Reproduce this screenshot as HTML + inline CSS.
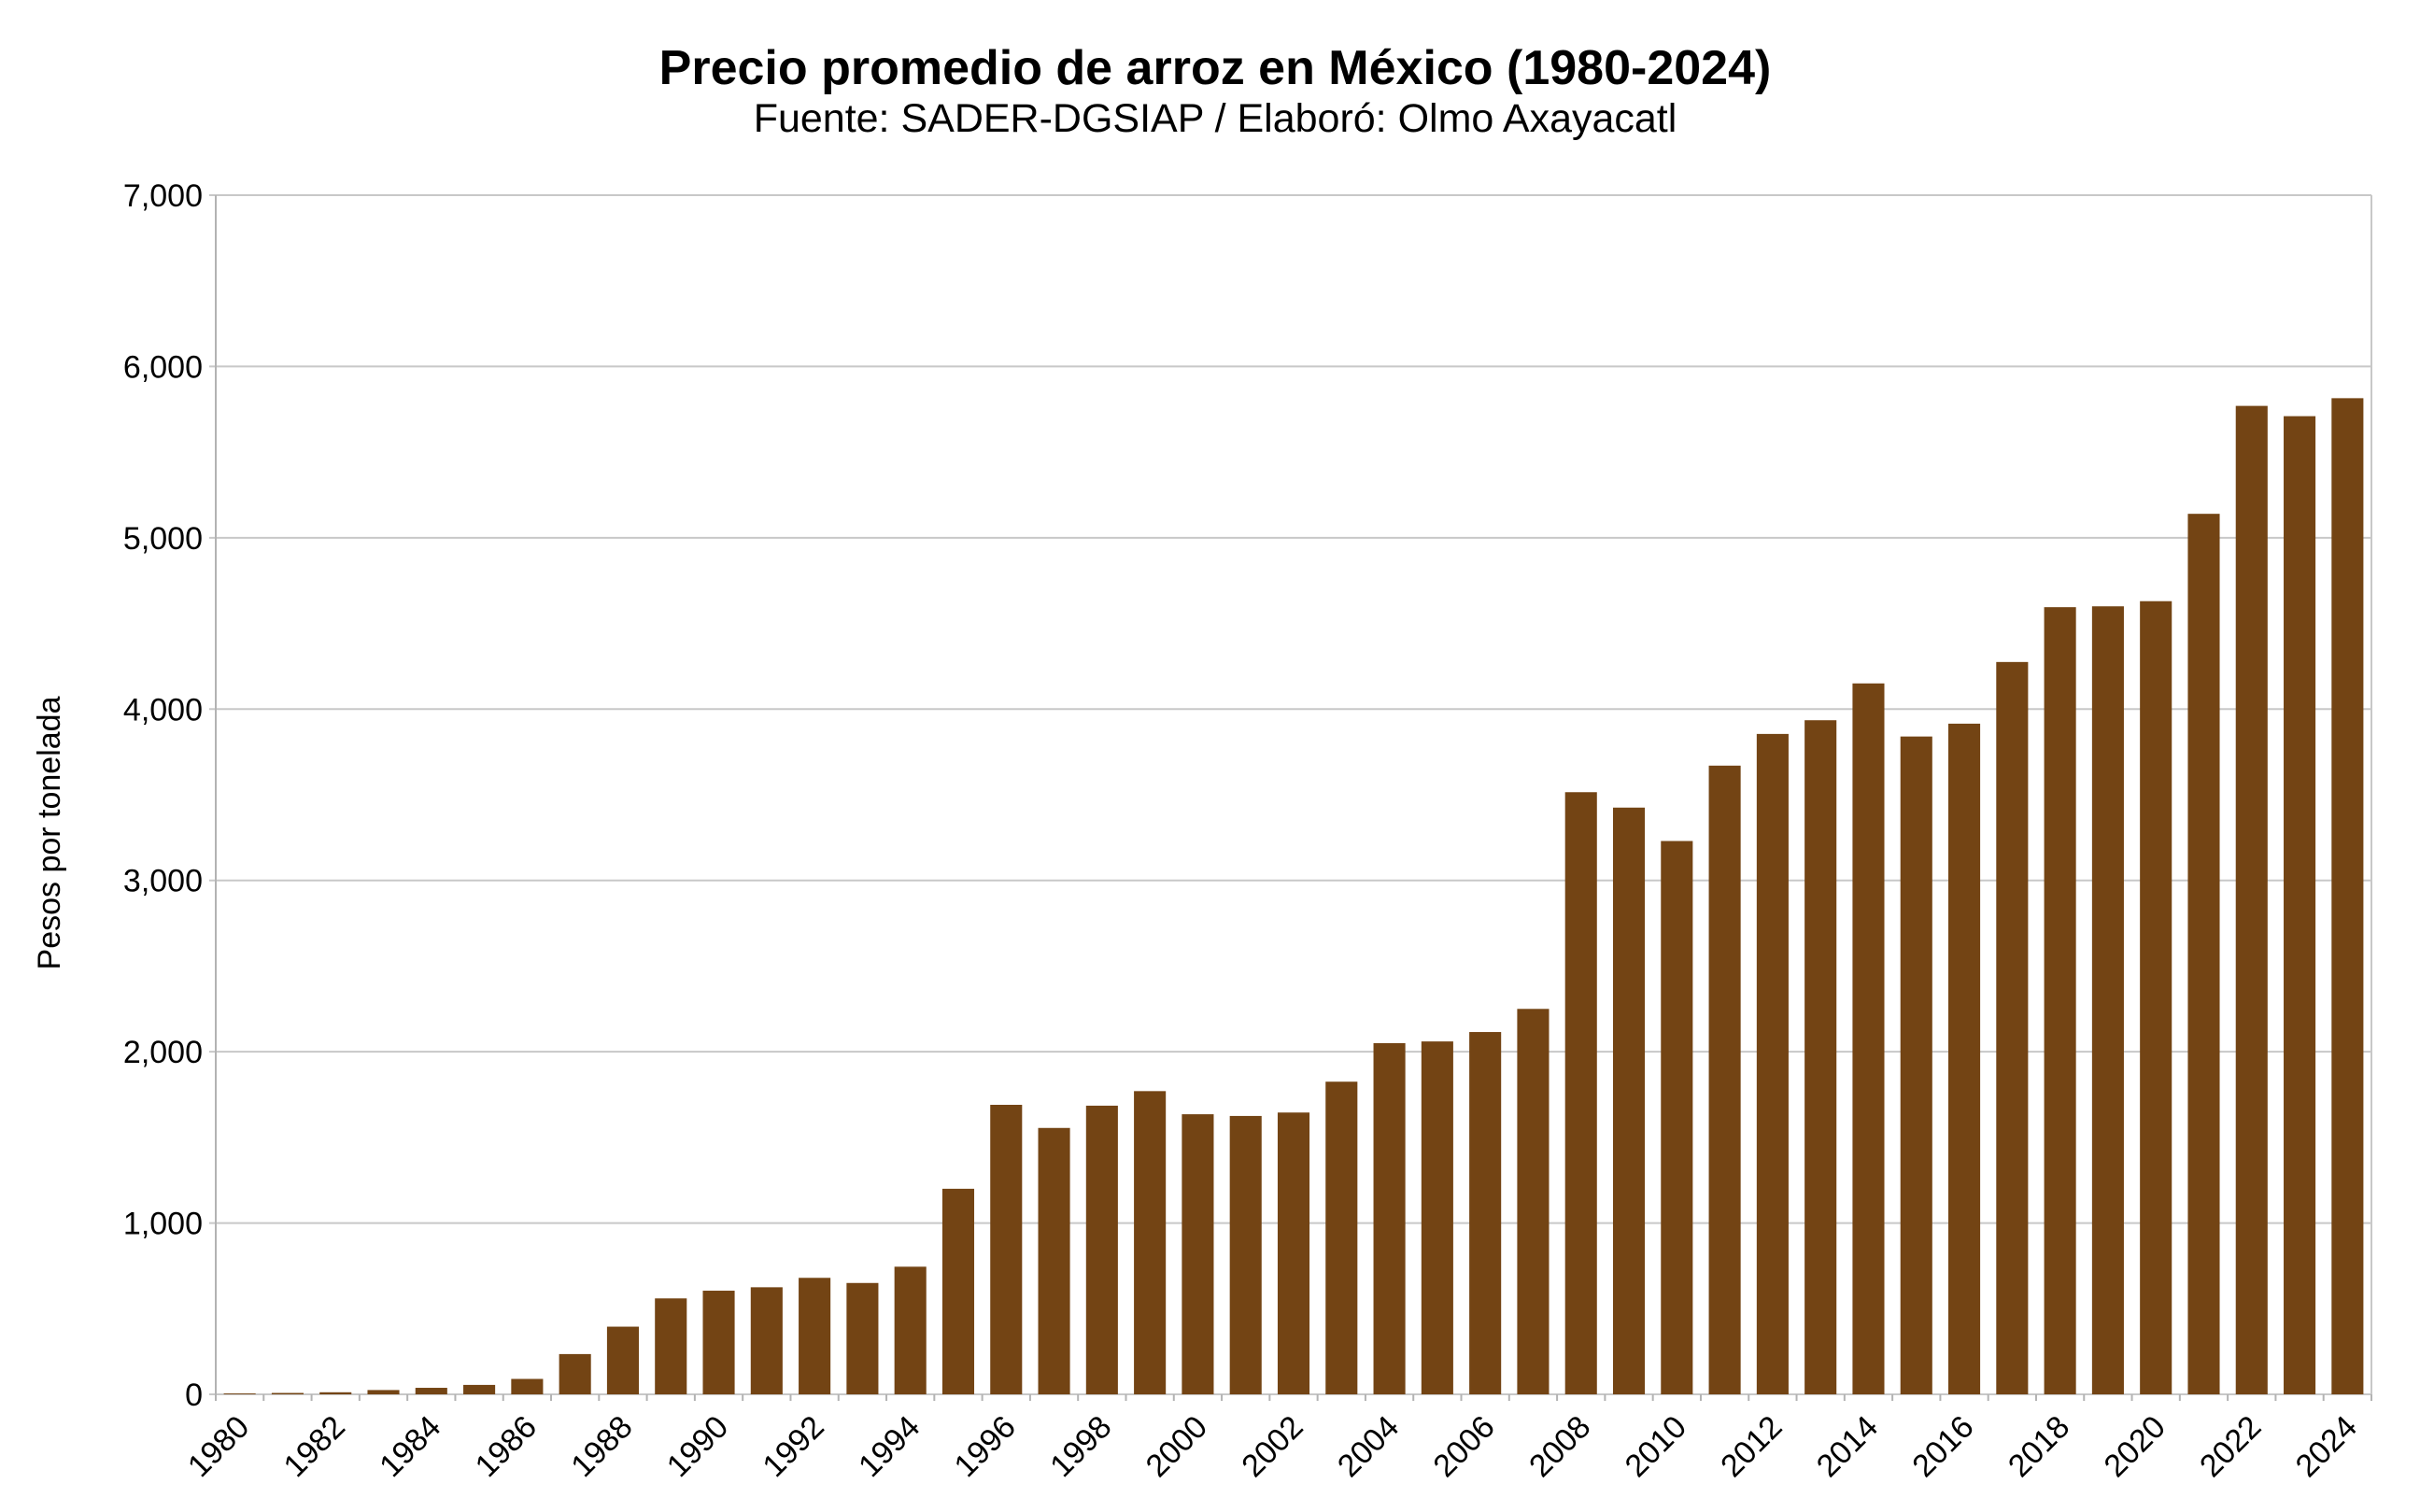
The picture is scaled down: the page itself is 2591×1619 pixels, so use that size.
<!DOCTYPE html>
<html><head><meta charset="utf-8"><style>html,body{margin:0;padding:0;background:#fff}svg{display:block}</style></head>
<body>
<svg id="s" width="2591" height="1619" xmlns="http://www.w3.org/2000/svg" font-family="Liberation Sans, sans-serif">
<rect width="2591" height="1619" fill="#fff"/>
<text x="1301" y="90" font-size="52" font-weight="bold" text-anchor="middle">Precio promedio de arroz en México (1980-2024)</text>
<text x="1301" y="141" font-size="43" text-anchor="middle">Fuente: SADER-DGSIAP / Elaboró: Olmo Axayacatl</text>
<text transform="translate(64,892) rotate(-90)" font-size="34" text-anchor="middle">Pesos por tonelada</text>
<g id="g"></g>
</svg>
<script>
const g=document.getElementById('g');
const L=231,R=2539,T=209,B=1493;
let h='';
for(let i=0;i<=7;i++){const y=B-(B-T)*i/7;
 h+=`<line x1="${L-7}" y1="${y}" x2="${R}" y2="${y}" stroke="#c8c8c8" stroke-width="2"/>`;
 h+=`<text x="217" y="${y+12}" font-size="34" text-anchor="end">${i==0?'0':i+',000'}</text>`;}
h+=`<line x1="${L}" y1="${T}" x2="${L}" y2="${B+7}" stroke="#b3b3b3" stroke-width="2"/>`;
h+=`<line x1="${R}" y1="${T}" x2="${R}" y2="${B}" stroke="#c8c8c8" stroke-width="2"/>`;
const v=[5,8,12,25,38,55,90,235,395,560,605,625,680,650,745,1200,1690,1555,1685,1770,1635,1625,1645,1825,2050,2060,2115,2250,3515,3425,3230,3670,3855,3935,4150,3840,3915,4275,4595,4600,4630,5140,5770,5710,5815];
const w=(R-L)/45;
v.forEach((d,i)=>{const x=L+i*w;const ht=(B-T)*d/7000;
 h+=`<rect x="${x+8.6}" y="${B-ht}" width="${w-17.2}" height="${ht}" fill="#734414"/>`;
 h+=`<line x1="${x+w}" y1="${B}" x2="${x+w}" y2="${B+7}" stroke="#b3b3b3" stroke-width="2"/>`;
 if(i%2==0){const cx=x+w/2+12;h+=`<text transform="translate(${cx},1530) rotate(-45)" font-size="34" text-anchor="end">${1980+i}</text>`;}
});
g.innerHTML=h;
</script>
</body></html>
